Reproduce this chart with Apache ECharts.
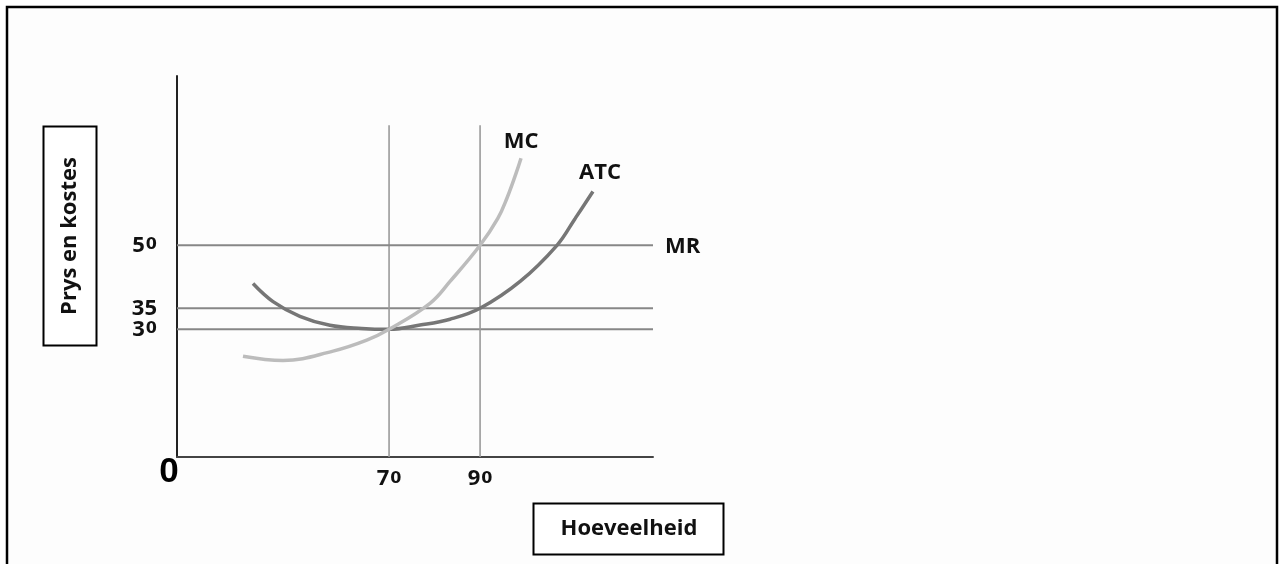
<!DOCTYPE html>
<html>
<head>
<meta charset="utf-8">
<script src="https://cdn.jsdelivr.net/npm/echarts@6/dist/echarts.min.js"></script>
<style>
html,body{margin:0;padding:0;background:#fff;}
#chart{width:1283px;height:564px;}
</style>
</head>
<body>
<div id="chart"></div>
<script>
// ---- data ----
const xTickValues = [70, 90];
const yTickValuesMain = [30, 50];
const yTickValuesExtra = [35];
const mrValue = 50;
const otherPriceLines = [35, 30];
const quantityLines = [70, 90];
const quantityLineTop = 78.6;
const xRange = [23.4, 128];
const yRange = [-0.4, 90.3];
const mcPoints = [[37.9,23.6],[46.7,22.6],[57.7,24.8],[65.1,27.4],[70,30],[79.0,36.2],[83.4,41.4],[90,50],[93.9,56.4],[95.9,61.2],[97.9,67.1],[99.0,70.7]];
const atcPoints = [[40.1,40.9],[44.5,36.6],[50.4,33.1],[57.0,30.95],[64.0,30.2],[70,30],[76.8,31.0],[83.4,32.4],[90,35],[98.8,41.4],[106.9,50],[110.9,56.4],[114.8,62.8]];
const labels = {y: 'Prys en kostes', x: 'Hoeveelheid', origin: '0'};

const chart = echarts.init(document.getElementById('chart'));

function digitRich(v){
  return String(v).split('').map(c => c === '0' ? '{b|0}' : '{a|' + c + '}').join('');
}
const richDigits = {
  a: {fontSize: 22, fontWeight: 'bold', fontFamily: 'Open Sans', color: '#111', lineHeight: 16},
  b: {fontSize: 16, fontWeight: 'bold', fontFamily: 'DejaVu Sans', color: '#111', padding: [0,0,0,1], lineHeight: 16}
};

const series = [];
otherPriceLines.forEach(v => {
  series.push({type:'line', data:[[xRange[0], v],[xRange[1], v]], symbol:'none', silent:true,
    lineStyle:{color:'#878787', width:2}, z:2});
});
quantityLines.forEach(v => {
  series.push({type:'line', data:[[v, yRange[0]],[v, quantityLineTop]], symbol:'none', silent:true,
    lineStyle:{color:'#9a9a9a', width:1.6}, z:2});
});
series.push({name:'MR', type:'line', data:[[xRange[0], mrValue],[xRange[1], mrValue]], symbol:'none',
  lineStyle:{color:'#878787', width:2}, z:2,
  endLabel:{show:true, formatter:'MR', distance:0, align:'left', verticalAlign:'middle', offset:[12,1],
    fontSize:22, fontWeight:'bold', fontFamily:'Open Sans', color:'#111'}});
series.push({name:'MC', type:'line', data:mcPoints, smooth:0.4, symbol:'none',
  lineStyle:{color:'#bcbcbc', width:3.5}, z:4,
  endLabel:{show:true, formatter:'MC', distance:0, align:'center', verticalAlign:'middle', offset:[0,-17],
    fontSize:22, fontWeight:'bold', fontFamily:'Open Sans', color:'#111'}});
series.push({name:'ATC', type:'line', data:atcPoints, smooth:0.4, symbol:'none',
  lineStyle:{color:'#767676', width:3.5}, z:3,
  endLabel:{show:true, formatter:'ATC', distance:0, align:'center', verticalAlign:'middle', offset:[7,-19],
    fontSize:22, fontWeight:'bold', fontFamily:'Open Sans', color:'#111'}});

function yAxisDef(values, showLine){
  return {type:'value', min:yRange[0], max:yRange[1], position:'left', offset:0,
    axisLine:{show:showLine, onZero:false, lineStyle:{color:'#222', width:2}},
    axisTick:{show:false}, splitLine:{show:false},
    axisLabel:{show:true, customValues:values, margin:20, formatter:digitRich, rich:richDigits}};
}

chart.setOption({
  animation:false,
  backgroundColor:'#ffffff',
  grid:{left:177, right:630, top:76, bottom:107, containLabel:false},
  xAxis:{type:'value', min:xRange[0], max:xRange[1],
    axisLine:{show:true, onZero:false, lineStyle:{color:'#444', width:2}},
    axisTick:{show:false}, splitLine:{show:false},
    axisLabel:{show:true, customValues:xTickValues, margin:14, formatter:digitRich, rich:richDigits}},
  yAxis:[yAxisDef(yTickValuesMain, true), yAxisDef(yTickValuesExtra, false)],
  graphic:[
    {type:'rect', shape:{x:7, y:7, width:1270, height:620}, style:{fill:'#fdfdfd', stroke:'#000', lineWidth:2.5}, z:-10, silent:true},
    {type:'rect', shape:{x:43.5, y:126.5, width:53, height:219}, style:{fill:'#fff', stroke:'#000', lineWidth:2}, z:1},
    {type:'text', x:70, y:236, rotation:Math.PI/2, style:{text:labels.y, font:'bold 22px "Open Sans"', fill:'#111', align:'center', verticalAlign:'middle'}, z:2},
    {type:'rect', shape:{x:533.5, y:503.5, width:190, height:51}, style:{fill:'#fff', stroke:'#000', lineWidth:2}, z:1},
    {type:'text', x:629, y:529, style:{text:labels.x, font:'bold 22px "Open Sans"', fill:'#111', align:'center', verticalAlign:'middle'}, z:2},
    {type:'text', x:169, y:472, style:{text:labels.origin, font:'bold 35px "Liberation Sans"', fill:'#000', align:'center', verticalAlign:'middle'}, z:2}
  ],
  series:series
});
</script>
</body>
</html>
